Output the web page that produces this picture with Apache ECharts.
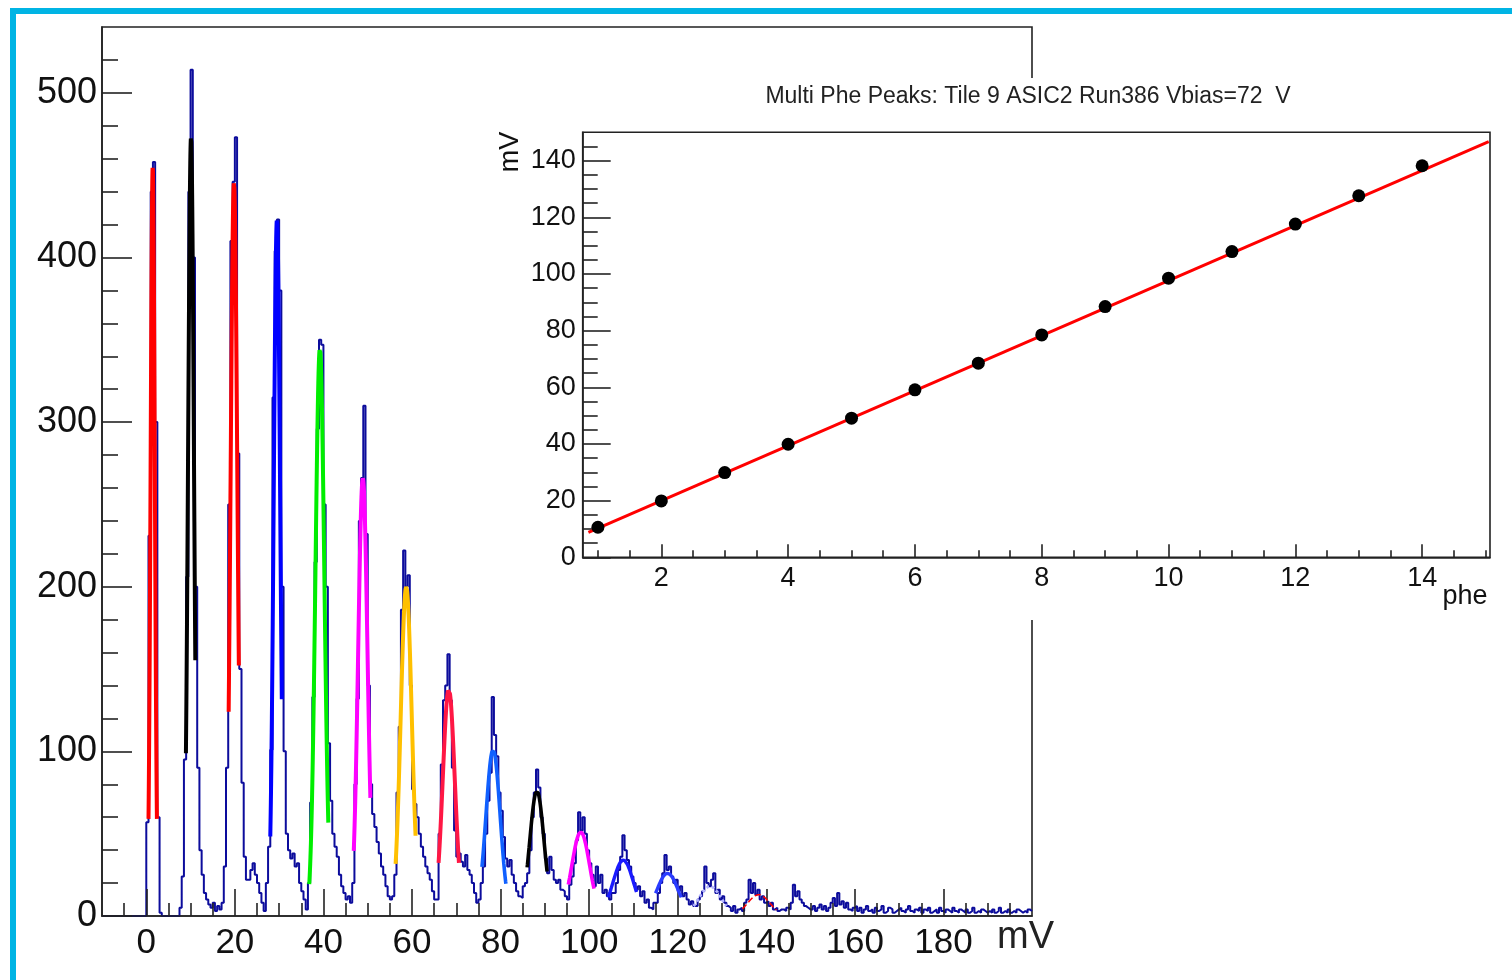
<!DOCTYPE html>
<html><head><meta charset="utf-8">
<script src="https://cdn.jsdelivr.net/npm/echarts@6/dist/echarts.min.js"></script>
<style>html,body{margin:0;padding:0;background:#fff}#c{width:1512px;height:980px}</style>
</head><body><div id="c"></div>
<script>
// ---------------- DATA ----------------
// Main histogram: counts per 0.5 mV bin, starting at 0 mV
const binStart = 0;
const binWidth = 0.5;
const counts = [
  57,231,440,458,300,60,2,0,0,0, 0,0,0,0,0,5,24,95,206,440,        // 0-10
  514,400,200,90,40,25,14,10,7,5, 8,3,6,4,8,30,90,250,410,446,      // 10-20
  473,281,150,81,36,22,22,28,32,25, 20,14,8,3,20,42,101,315,404,423,// 20-30
  380,200,100,50,40,35,38,30,32,20, 15,10,4,20,69,133,215,296,350,347, // 30-40
  250,200,105,70,50,42,36,25,18,14, 10,12,8,20,80,132,240,266,310,232, // 40-50
  140,80,62,54,45,38,30,25,18,12, 10,12,25,75,115,186,222,200,207,140, // 50-60
  77,68,60,50,42,36,30,26,22,15, 10,10,50,92,131,140,159,131,90,52,    // 60-70
  36,38,33,30,37,28,25,20,14,8, 10,20,30,50,70,87,133,110,97,75,       // 70-80
  64,48,35,30,34,25,20,15,12,11, 18,20,26,40,60,75,89,78,60,50,        // 80-90
  35,26,36,28,22,20,22,16,15,12, 10,19,24,32,46,63,52,60,50,40,        // 90-100
  32,25,18,30,20,25,14,16,12,10, 14,14,20,28,36,49,40,34,30,24,        // 100-110
  20,16,18,12,15,8,10,5,4,8, 8,14,20,26,37,28,30,24,20,22,             // 110-120
  15,18,12,14,10,7,9,6,6,10, 12,15,30,20,18,22,26,14,16,10,            // 120-130
  12,8,6,5,3,6,2,4,5,3, 8,10,22,14,20,13,16,10,12,8,                   // 130-140
  9,6,8,4,5,3,4,4,3,5, 4,8,19,12,15,10,8,6,5,4,                        // 140-150
  4,6,3,5,7,4,6,3,5,8, 11,6,14,7,9,5,8,4,3,5,                          // 150-160
  6,3,5,2,4,6,3,4,2,5, 3,4,6,2,3,5,4,2,3,4,                            // 160-170
  5,3,2,4,6,3,2,4,3,5, 2,4,3,5,2,3,4,2,5,3,                            // 170-180
  2,4,3,2,5,3,2,4,3,2, 4,2,3,5,2,3,2,4,3,2,                            // 180-190
  3,2,4,2,3,5,2,3,2,4, 2,3,2,4,3,2,3,2,4,3                             // 190-200
];
// Gaussian fits of each peak
const fitAmp   = [455, 473, 446, 423, 345, 266, 200, 138, 101, 76, 51, 34, 26, 18, 13];
const fitMean  = [1.45, 10.1, 19.8, 29.5, 39.2, 48.9, 58.7, 68.3, 78.3, 88.2, 98.1, 107.7, 117.7, 127.3, 138.3];
const fitSigma = [0.47, 0.65, 0.75, 0.72, 1.0, 1.05, 1.25, 1.35, 1.6, 1.6, 2.0, 2.3, 2.4, 2.5, 2.5];
const fitLo    = [0.5, 8.95, 18.6, 28.0, 36.8, 46.85, 56.3, 66.0, 75.8, 86.0, 95.3, 104.3, 115.0, 123.6, 134.6];
const fitHi    = [2.4, 11.07, 20.9, 30.6, 41.1, 50.6, 60.8, 70.6, 81.2, 90.5, 101.1, 110.7, 120.8, 131.0, 142.3];
// Main axes ticks
const mainXMajor = [0,20,40,60,80,100,120,140,160,180];
const mainXMinor = [-5,5,10,15,25,30,35,45,50,55,65,70,75,85,90,95,105,110,115,125,130,135,145,150,155,165,170,175,185,190,195];
const mainYMajor = [0,100,200,300,400,500];
const mainYMinor = [20,40,60,80,120,140,160,180,220,240,260,280,320,340,360,380,420,440,460,480,520];
// Inset: peak position vs number of photoelectrons
const phe    = [1,2,3,4,5,6,7,8,9,10,11,12,13,14];
const peakMV = [10.6,19.9,29.9,39.9,49.1,59.1,68.5,78.5,88.5,98.5,107.9,117.6,127.6,138.2];
const linFitP0 = 0.57, linFitP1 = 9.71;
const linFitRange = [0.85, 15.05];
const insetXMajor = [2,4,6,8,10,12,14];
const insetXMinor = [1,1.5,2.5,3,3.5,4.5,5,5.5,6.5,7,7.5,8.5,9,9.5,10.5,11,11.5,12.5,13,13.5,14.5,15];
const insetYMajor = [0,20,40,60,80,100,120,140];
const insetYMinor = [5,10,15,25,30,35,45,50,55,65,70,75,85,90,95,105,110,115,125,130,135,145];
const titleText = 'Multi Phe Peaks: Tile 9 ASIC2 Run386 Vbias=72  V';

// ---------------- STYLE ----------------
const FONT = '"Liberation Sans", Arial, Helvetica, sans-serif';
const histColor = '#0c0c9c';
const fitColors = ['#ff0000','#000000','#ff0000','#0000ff','#00ee00','#ff00ff','#ffc000','#ff1744','#1060ff','#000000','#ff00ff','#1a1aff','#2a3cff','#b4b4ff','#ff0000'];
const fitWidths = [4,4,4,4,4,4,4,4,3.6,3.6,3.6,3.4,3.4,2.8,1.5];
const fitTypes  = ['solid','solid','solid','solid','solid','solid','solid','solid','solid','solid','solid','solid','solid','dotted','dashed'];

const mainRect  = {left: 102, top: 27, width: 930, height: 889};
const insetRect = {left: 582.7, top: 132.3, width: 907.3, height: 425};

// ---------------- BUILD ----------------
const histData = [[-10, 0]];
counts.forEach((c, i) => histData.push([binStart + i * binWidth, c]));
histData.push([binStart + counts.length * binWidth, counts[counts.length - 1]]);

const series = [{
  type: 'line', xAxisIndex: 0, yAxisIndex: 0, data: histData, step: 'end',
  showSymbol: false, symbol: 'none', z: 2,
  lineStyle: {color: histColor, width: 2}
}];
fitAmp.forEach((a, k) => {
  const pts = [];
  const n = 80;
  for (let j = 0; j <= n; j++) {
    const x = fitLo[k] + (fitHi[k] - fitLo[k]) * j / n;
    pts.push([x, a * Math.exp(-0.5 * Math.pow((x - fitMean[k]) / fitSigma[k], 2))]);
  }
  series.push({
    type: 'line', xAxisIndex: 0, yAxisIndex: 0, data: pts, showSymbol: false, symbol: 'none', z: 3,
    lineStyle: {color: fitColors[k], width: fitWidths[k], type: fitTypes[k]}
  });
});
series.push({
  type: 'line', xAxisIndex: 2, yAxisIndex: 2, showSymbol: false, symbol: 'none', z: 13,
  data: linFitRange.map(x => [x, linFitP0 + linFitP1 * x]),
  lineStyle: {color: '#ff0000', width: 3}
});
series.push({
  type: 'scatter', xAxisIndex: 2, yAxisIndex: 2, z: 14,
  data: phe.map((p, i) => [p, peakMV[i]]),
  symbol: 'circle', symbolSize: 13, itemStyle: {color: '#000', opacity: 1}
});

function tickAxis(grid, min, max, vals, len, z) {
  return {
    type: 'value', gridIndex: grid, min: min, max: max, z: z,
    axisLine: {show: false, onZero: false}, splitLine: {show: false}, axisLabel: {show: false},
    axisTick: {show: true, inside: true, length: len, customValues: vals, lineStyle: {color: '#222', width: 1.6}}
  };
}

const option = {
  animation: false,
  backgroundColor: '#fff',
  grid: [
    Object.assign({show: true, borderColor: '#222', borderWidth: 1.6, backgroundColor: 'transparent', z: 0}, mainRect),
    Object.assign({show: false}, mainRect),
    Object.assign({show: true, borderColor: '#222', borderWidth: 1.6, backgroundColor: '#fff', z: 11}, insetRect),
    Object.assign({show: false}, insetRect)
  ],
  xAxis: [
    {type: 'value', gridIndex: 0, min: -10, max: 200, z: 3,
     axisLine: {show: true, onZero: false, lineStyle: {color: '#222', width: 1.6}},
     splitLine: {show: false},
     axisTick: {show: true, inside: true, length: 27, customValues: mainXMajor, lineStyle: {color: '#222', width: 1.6}},
     axisLabel: {show: true, customValues: mainXMajor, margin: 10, fontSize: 35, fontFamily: FONT, color: '#111'}},
    tickAxis(1, -10, 200, mainXMinor, 13, 3),
    {type: 'value', gridIndex: 2, min: 0.76, max: 15.07, z: 12,
     axisLine: {show: true, onZero: false, lineStyle: {color: '#222', width: 1.6}},
     splitLine: {show: false},
     axisTick: {show: true, inside: true, length: 13, customValues: insetXMajor, lineStyle: {color: '#222', width: 1.6}},
     axisLabel: {show: true, customValues: insetXMajor, margin: 8, fontSize: 27, fontFamily: FONT, color: '#111'}},
    tickAxis(3, 0.76, 15.07, insetXMinor, 7, 12)
  ],
  yAxis: [
    {type: 'value', gridIndex: 0, min: 0, max: 540, z: 3,
     axisLine: {show: true, onZero: false, lineStyle: {color: '#222', width: 1.6}},
     splitLine: {show: false},
     axisTick: {show: true, inside: true, length: 30, customValues: mainYMajor, lineStyle: {color: '#222', width: 1.6}},
     axisLabel: {show: true, customValues: mainYMajor, margin: 5, fontSize: 36, fontFamily: FONT, color: '#111'}},
    tickAxis(1, 0, 540, mainYMinor, 16, 3),
    {type: 'value', gridIndex: 2, min: 0, max: 150, z: 12,
     axisLine: {show: true, onZero: false, lineStyle: {color: '#222', width: 1.6}},
     splitLine: {show: false},
     axisTick: {show: true, inside: true, length: 28, customValues: insetYMajor, lineStyle: {color: '#222', width: 1.6}},
     axisLabel: {show: true, customValues: insetYMajor, margin: 7, fontSize: 27, fontFamily: FONT, color: '#111'}},
    tickAxis(3, 0, 150, insetYMinor, 15, 12)
  ],
  graphic: {elements: [
    {type: 'rect', z: 10, silent: true, shape: {x: 480, y: 78, width: 1040, height: 542}, style: {fill: '#fff'}},
    {type: 'rect', z: 20, silent: true, shape: {x: 13, y: 11, width: 1520, height: 1000}, style: {fill: 'none', stroke: '#00b4e4', lineWidth: 6}},
    {type: 'text', z: 15, x: 1028, y: 97, style: {text: titleText, font: '23px ' + FONT, fill: '#222', align: 'center', verticalAlign: 'middle'}},
    {type: 'text', z: 15, x: 511, y: 152, rotation: Math.PI / 2, style: {text: 'mV', font: '27px ' + FONT, fill: '#111', align: 'center', verticalAlign: 'middle'}},
    {type: 'text', z: 15, x: 1465, y: 597, style: {text: 'phe', font: '27px ' + FONT, fill: '#111', align: 'center', verticalAlign: 'middle'}},
    {type: 'text', z: 5, x: 997, y: 938, style: {text: 'mV', font: '38px ' + FONT, fill: '#222', align: 'left', verticalAlign: 'middle'}}
  ]},
  series: series
};
const chart = echarts.init(document.getElementById('c'), null, {renderer: 'canvas'});
chart.setOption(option);
</script>
</body></html>
